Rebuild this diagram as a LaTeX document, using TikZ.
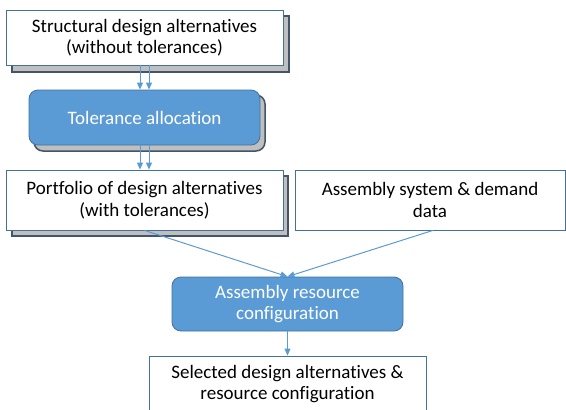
\documentclass[tikz,border=0pt]{standalone}
\usepackage{fontspec}
\setmainfont{Carlito}[Ligatures=NoCommon]
\usetikzlibrary{arrows.meta}
\definecolor{bluefill}{HTML}{5B9BD5}
\definecolor{blueedge}{HTML}{41719C}
\definecolor{shadowfill}{HTML}{BFBFBF}
\definecolor{shadowedge}{HTML}{44546A}
\definecolor{txt}{HTML}{000000}
\tikzset{
  lbl/.style={font=\fontsize{19}{21.5}\selectfont},
  whitebox/.style={draw=blueedge, line width=0.8pt, fill=white, inner sep=0pt, text=txt, align=center, lbl},
  bluebox/.style={draw=blueedge, line width=0.8pt, fill=bluefill, rounded corners=9pt, inner sep=0pt, text=white, align=center, lbl},
  shadowsq/.style={draw=shadowedge, line width=1.5pt, fill=shadowfill},
  shadowrd/.style={draw=shadowedge, line width=1.5pt, fill=shadowfill, rounded corners=9pt},
  conn/.style={draw=bluefill, line width=1pt, -{Triangle[length=7pt,width=6pt]}}
}
\begin{document}
\begin{tikzpicture}[x=1pt,y=-1pt]
\useasboundingbox (0,0) rectangle (566,410);
% shadows
\path[shadowsq] (12,16) rectangle (289,72);
\path[shadowrd] (34,95) rectangle (265,151);
\path[shadowsq] (12,176) rectangle (288,236);
% boxes
\node[whitebox, minimum width=277pt, minimum height=55pt] (sda) at (144.5,37.5) {Structural design alternatives\\(without tolerances)};
\node[bluebox, minimum width=231pt, minimum height=55pt] (ta) at (144.5,117.5) {Tolerance allocation};
\node[whitebox, minimum width=277pt, minimum height=60pt] (pda) at (144.5,200) {Portfolio of design alternatives\\(with tolerances)};
\node[whitebox, minimum width=270pt, minimum height=60pt] (asd) at (430,200) {Assembly system \& demand\\data};
\node[bluebox, minimum width=231pt, minimum height=54pt] (arc) at (287.5,304) {Assembly resource\\configuration};
\node[whitebox, minimum width=277pt, minimum height=70pt] (sel) at (287.5,391) {};
\node[lbl, align=center, text=txt] (seltxt) at (287.5,384) {Selected design alternatives \&\\resource configuration};
% connectors
\coordinate (a1s) at ([xshift=-4.5pt]sda.south);
\coordinate (a2s) at ([xshift=4.5pt]sda.south);
\draw[conn] (a1s) -- (a1s |- ta.north);
\draw[conn] (a2s) -- (a2s |- ta.north);
\coordinate (b1s) at ([xshift=-4.5pt]ta.south);
\coordinate (b2s) at ([xshift=4.5pt]ta.south);
\draw[conn] (b1s) -- (b1s |- pda.north);
\draw[conn] (b2s) -- (b2s |- pda.north);
\draw[conn] (pda.south) -- (arc.north);
\draw[conn] ([xshift=3pt]asd.south) -- (arc.north);
\draw[conn] (arc.south) -- (sel.north);
\end{tikzpicture}
\end{document}
